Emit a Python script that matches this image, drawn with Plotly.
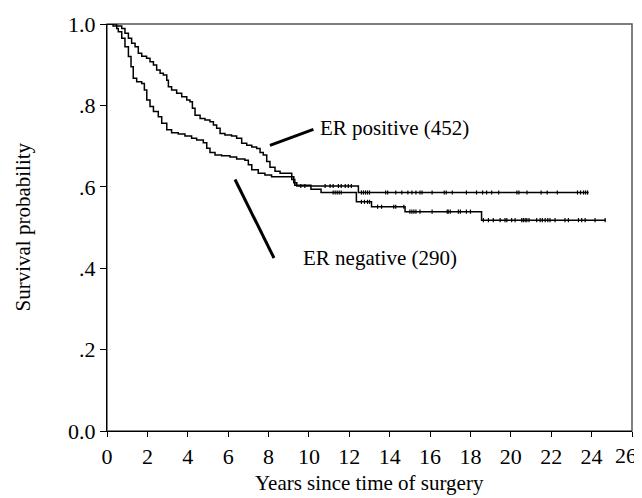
import numpy as np
import plotly.graph_objects as go

# ER positive (452): step times (years) and survival after each step
pos_t = [0, 0.30, 0.73, 0.89, 1.06, 1.22, 1.39, 1.55, 1.72, 1.96, 2.13, 2.30, 2.46,
         2.63, 2.79, 2.96, 3.04, 3.20, 3.45, 3.70, 3.95, 4.11, 4.23, 4.36, 4.61,
         4.85, 5.10, 5.27, 5.43, 5.60, 5.84, 6.17, 6.42, 6.67, 6.92, 7.17, 7.41,
         7.58, 7.74, 7.91, 8.07, 8.32, 8.57, 9.15, 9.30, 10.1, 10.6, 12.35, 13.1,
         14.76, 18.55, 24.7]
pos_s = [1.0, 0.995, 0.989, 0.977, 0.965, 0.953, 0.944, 0.928, 0.921, 0.916, 0.907,
         0.899, 0.887, 0.879, 0.875, 0.862, 0.846, 0.838, 0.830, 0.821, 0.813, 0.809,
         0.793, 0.776, 0.768, 0.764, 0.760, 0.752, 0.744, 0.731, 0.727, 0.725, 0.719,
         0.707, 0.702, 0.698, 0.694, 0.684, 0.678, 0.662, 0.648, 0.638, 0.633, 0.618,
         0.604, 0.594, 0.586, 0.563, 0.551, 0.539, 0.518, 0.518]
pos_cens = [11.2, 11.3, 11.4, 11.5, 11.6, 12.6, 12.75, 12.9, 13.0, 13.4, 13.6, 14.2,
            14.3, 14.7, 15.0, 15.1, 15.2, 15.3, 15.5, 16.1, 16.85, 16.9, 17.0, 17.4,
            17.5, 17.8, 18.0, 18.64, 18.89, 19.13, 19.47, 19.71, 19.80, 20.04, 20.21,
            20.54, 20.62, 20.71, 20.79, 20.9, 21.28, 21.45, 21.56, 21.7, 21.83, 21.94,
            22.19, 22.68, 22.85, 23.35, 23.51, 23.68, 24.17, 24.67]

# ER negative (290)
neg_t = [0, 0.48, 0.56, 0.73, 0.89, 1.06, 1.19, 1.30, 1.47, 1.72, 1.85, 1.97, 2.13,
         2.30, 2.54, 2.71, 2.96, 3.20, 3.53, 3.86, 4.19, 4.44, 4.77, 4.94, 5.10,
         5.35, 5.68, 6.09, 6.42, 6.83, 7.00, 7.17, 7.49, 7.82, 8.15, 9.25, 9.40,
         12.45, 23.85]
neg_s = [1.0, 0.989, 0.981, 0.965, 0.944, 0.920, 0.895, 0.867, 0.858, 0.854, 0.838,
         0.813, 0.797, 0.785, 0.772, 0.756, 0.740, 0.733, 0.730, 0.725, 0.719, 0.715,
         0.708, 0.695, 0.684, 0.678, 0.676, 0.673, 0.668, 0.665, 0.654, 0.642, 0.633,
         0.629, 0.625, 0.610, 0.602, 0.586, 0.586]
neg_cens = [9.6, 9.8, 10.8, 11.05, 11.2, 11.46, 11.6, 11.8, 11.95, 12.1, 12.6, 12.7,
            12.8, 12.9, 13.0, 13.8, 13.9, 14.3, 14.6, 14.9, 15.1, 15.3, 15.5, 15.6,
            16.1, 16.7, 16.8, 17.1, 17.8, 18.3, 18.6, 18.8, 19.05, 19.4, 20.3, 20.4,
            20.8, 21.5, 21.8, 22.3, 23.3, 23.45, 23.6, 23.7, 23.8]

x_ticks = list(range(0, 27, 2))
x_tick_text = [str(v) for v in x_ticks]
y_ticks = [0.0, 0.2, 0.4, 0.6, 0.8, 1.0]
y_tick_text = ["0.0", ".2", ".4", ".6", ".8", "1.0"]

labels = ["ER positive (452)", "ER negative (290)"]
label_pos = [(10.45, 0.745), (9.6, 0.425)]
pointers = [((8.07, 0.702), (10.22, 0.741)), ((6.34, 0.618), (8.27, 0.425))]
x_title = "Years since time of surgery"
y_title = "Survival probability"


def step_lookup(times, surv, pts):
    idx = np.searchsorted(np.array(times), np.array(pts), side="right") - 1
    return [surv[i] for i in idx]


FONT = "Liberation Serif, Times New Roman, serif"
fig = go.Figure()
for t, s, c in [(pos_t, pos_s, pos_cens), (neg_t, neg_s, neg_cens)]:
    fig.add_trace(go.Scatter(x=t, y=s, mode="lines", line=dict(color="black", width=1.5, shape="hv"),
                             showlegend=False, hoverinfo="skip"))
    fig.add_trace(go.Scatter(x=c, y=step_lookup(t, s, c), mode="markers",
                             marker=dict(symbol="line-ns", size=3, line=dict(color="black", width=1.2)),
                             showlegend=False, hoverinfo="skip"))

# invisible trace that carries the overlay axis for the last (nudged) tick label
fig.add_trace(go.Scatter(x=[x_ticks[-1]], y=[0], xaxis="x2", mode="markers", opacity=0,
                         showlegend=False, hoverinfo="skip"))

for (x0, y0), (x1, y1) in pointers:
    fig.add_shape(type="line", x0=x0, y0=y0, x1=x1, y1=y1, xref="x", yref="y",
                  line=dict(color="black", width=3))

for txt, (lx, ly) in zip(labels, label_pos):
    fig.add_annotation(x=lx, y=ly, text=txt, showarrow=False, xanchor="left", yanchor="middle",
                       font=dict(family=FONT, size=21, color="black"))

# axis titles placed explicitly
fig.add_annotation(x=0.5, y=0, xref="paper", yref="paper", yshift=-52, yanchor="middle",
                   text=x_title, showarrow=False, font=dict(family=FONT, size=21, color="black"))
fig.add_annotation(x=0, y=0.5, xref="paper", yref="paper", xshift=-85, text=y_title, textangle=-90,
                   showarrow=False, yanchor="middle", xanchor="center",
                   font=dict(family=FONT, size=21, color="black"))

# frame (top/right grey)
fig.add_shape(type="rect", x0=0, y0=0, x1=1, y1=1, xref="paper", yref="paper",
              line=dict(color="#555555", width=1.5), layer="below")

# page body has an 8px margin, so the figure is 8px smaller and margins offset
fig.update_layout(
    width=634, height=490,
    margin=dict(l=99, r=10, t=16, b=67, autoexpand=False),
    paper_bgcolor="white", plot_bgcolor="white",
    font=dict(family=FONT, size=21, color="black"),
    xaxis=dict(range=[0, 26], tickvals=x_ticks, ticktext=x_tick_text[:-1] + [""], ticks="outside",
               ticklen=5, tickcolor="black",
               showline=True, linecolor="black", linewidth=1.2, showgrid=False, zeroline=False,
               automargin=False, ticklabeloverflow="allow",
               tickfont=dict(family=FONT, size=22)),
    xaxis2=dict(range=[0, 26], overlaying="x", side="bottom", anchor="y", tickvals=[x_ticks[-1]],
                ticktext=[x_tick_text[-1]], ticks="outside", ticklen=5, tickcolor="rgba(0,0,0,0)",
                showline=False, showgrid=False, zeroline=False,
                automargin=False, ticklabeloverflow="allow", ticklabelshift=-6,
                tickfont=dict(family=FONT, size=22, color="black")),
    yaxis=dict(range=[0, 1], tickvals=y_ticks, ticktext=y_tick_text, ticks="outside", ticklen=6,
               tickcolor="black", showline=True, linecolor="black", linewidth=1.2, showgrid=False,
               zeroline=False, automargin=False, ticklabeloverflow="allow",
               tickfont=dict(family=FONT, size=22)),
)

fig.write_html("out.html")
